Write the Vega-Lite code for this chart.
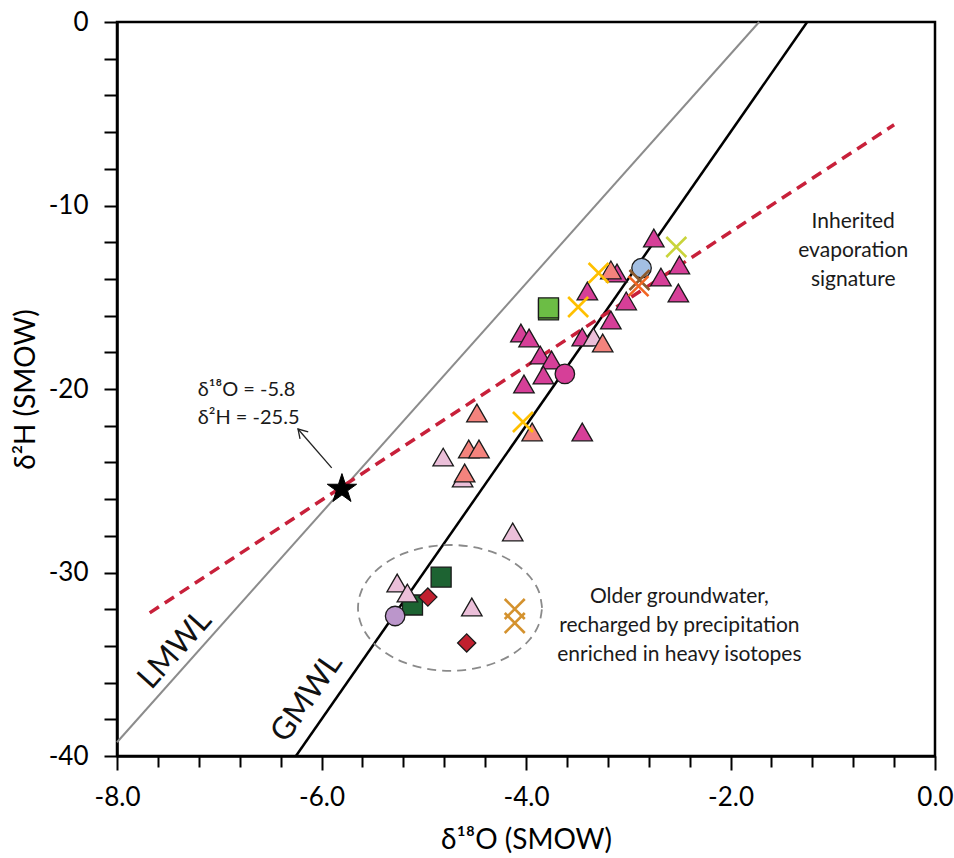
{
  "$schema": "https://vega.github.io/schema/vega-lite/v6.json",
  "width": 818,
  "height": 734,
  "autosize": {"type": "none"},
  "padding": {"left": 117, "top": 22, "right": 19, "bottom": 102},
  "background": "white",
  "config": {
    "font": "Lato",
    "view": {"stroke": "black", "strokeWidth": 2.5},
    "axis": {"grid": false, "domainColor": "black", "domainWidth": 2.5, "tickColor": "black", "tickWidth": 2, "labelColor": "black", "titleColor": "black", "titleFontWeight": "normal", "labelOverlap": false, "labelFlush": false, "labelBound": false}
  },
  "encoding": {
    "x": {
      "field": "x", "type": "quantitative",
      "scale": {"domain": [-8, 0], "nice": false, "zero": false},
      "axis": {
        "values": [-8, -7.6, -7.2, -6.8, -6.4, -6, -5.6, -5.2, -4.8, -4.4, -4, -3.6, -3.2, -2.8, -2.4, -2, -1.6, -1.2, -0.8, -0.4, 0],
        "labelExpr": "abs(datum.value/2 - round(datum.value/2)) < 0.001 ? replace(format(datum.value, '.1f'), '−', '-') : ''",
        "tickSize": {"condition": {"test": "abs(datum.value/2 - round(datum.value/2)) < 0.001", "value": 14}, "value": 11},
        "labelFontSize": 26,
        "labelPadding": 14,
        "title": "δ¹⁸O (SMOW)",
        "titleFontSize": 28,
        "titlePadding": 16
      }
    },
    "y": {
      "field": "y", "type": "quantitative",
      "scale": {"domain": [-40, 0], "nice": false, "zero": false},
      "axis": {
        "values": [0, -2, -4, -6, -8, -10, -12, -14, -16, -18, -20, -22, -24, -26, -28, -30, -32, -34, -36, -38, -40],
        "labelExpr": "datum.value % 10 == 0 ? replace(format(datum.value, 'd'), '−', '-') : ''",
        "tickSize": 13,
        "labelFontSize": 26,
        "labelPadding": 16,
        "title": "δ²H (SMOW)",
        "titleFontSize": 28,
        "titlePadding": 8
      }
    }
  },
  "layer": [
    {
      "data": {"values": [{"x": -8, "y": -39.25}, {"x": -1.72, "y": 0}]},
      "mark": {"type": "line", "color": "#8C8C8C", "strokeWidth": 2},
      "encoding": {}
    },
    {
      "data": {"values": [{"x": -6.25, "y": -40}, {"x": -1.25, "y": 0}]},
      "mark": {"type": "line", "color": "#000000", "strokeWidth": 2.5},
      "encoding": {}
    },
    {
      "data": {"values": [{"x": -7.68, "y": -32.2}, {"x": -0.4, "y": -5.6}]},
      "mark": {"type": "line", "color": "#C8203A", "strokeWidth": 3.5, "strokeDash": [11, 7]},
      "encoding": {}
    },
    {
      "data": {"values": [
        {"i": 0, "x": -3.843, "y": -31.93}, {"i": 1, "x": -3.874, "y": -31.04}, {"i": 2, "x": -3.964, "y": -30.22},
        {"i": 3, "x": -4.107, "y": -29.51}, {"i": 4, "x": -4.293, "y": -28.96}, {"i": 5, "x": -4.51, "y": -28.62},
        {"i": 6, "x": -4.743, "y": -28.5}, {"i": 7, "x": -4.976, "y": -28.62}, {"i": 8, "x": -5.193, "y": -28.96},
        {"i": 9, "x": -5.379, "y": -29.51}, {"i": 10, "x": -5.522, "y": -30.22}, {"i": 11, "x": -5.612, "y": -31.04},
        {"i": 12, "x": -5.643, "y": -31.93}, {"i": 13, "x": -5.612, "y": -32.82}, {"i": 14, "x": -5.522, "y": -33.65},
        {"i": 15, "x": -5.379, "y": -34.36}, {"i": 16, "x": -5.193, "y": -34.9}, {"i": 17, "x": -4.976, "y": -35.24},
        {"i": 18, "x": -4.743, "y": -35.36}, {"i": 19, "x": -4.51, "y": -35.24}, {"i": 20, "x": -4.293, "y": -34.9},
        {"i": 21, "x": -4.107, "y": -34.36}, {"i": 22, "x": -3.964, "y": -33.65}, {"i": 23, "x": -3.874, "y": -32.82},
        {"i": 24, "x": -3.843, "y": -31.93}
      ]},
      "mark": {"type": "line", "color": "#8A8A8A", "strokeWidth": 1.8, "strokeDash": [9, 6], "interpolate": "cardinal"},
      "encoding": {"order": {"field": "i", "type": "quantitative"}}
    },
    {
      "data": {"values": [
        {"g": "H", "x": -4.83, "y": -30.25}, {"g": "H", "x": -5.11, "y": -31.77},
        {"g": "G", "x": -3.78, "y": -15.69}, {"g": "G", "x": -3.78, "y": -15.58}
      ]},
      "mark": {"type": "point", "shape": "square", "size": 400, "filled": true, "opacity": 1, "stroke": "#1a1a1a", "strokeWidth": 1.3},
      "encoding": {
        "fill": {"field": "g", "type": "nominal", "legend": null,
          "scale": {"domain": ["A", "B", "C", "D", "E", "F", "G", "H", "I"], "range": ["#D63F98", "#F4837D", "#EBBFD9", "#D63F98", "#A3BFE3", "#BB96CB", "#6CBD45", "#1D6332", "#C1202F"]}}
      }
    },
    {
      "data": {"values": [
        {"g": "A", "x": -2.75, "y": -11.77}, {"g": "A", "x": -2.5, "y": -13.24}, {"g": "A", "x": -2.68, "y": -13.9},
        {"g": "A", "x": -2.51, "y": -14.77}, {"g": "A", "x": -3.4, "y": -14.66}, {"g": "A", "x": -3.02, "y": -15.2},
        {"g": "A", "x": -3.17, "y": -16.24}, {"g": "A", "x": -3.11, "y": -13.68}, {"g": "A", "x": -4.05, "y": -16.95},
        {"g": "A", "x": -3.97, "y": -17.22}, {"g": "A", "x": -3.45, "y": -17.17}, {"g": "A", "x": -3.86, "y": -18.15},
        {"g": "A", "x": -3.75, "y": -18.42}, {"g": "A", "x": -3.83, "y": -19.24}, {"g": "A", "x": -4.02, "y": -19.73},
        {"g": "A", "x": -3.45, "y": -22.34},
        {"g": "C", "x": -3.34, "y": -17.17}, {"g": "C", "x": -4.81, "y": -23.71}, {"g": "C", "x": -4.62, "y": -24.85},
        {"g": "C", "x": -4.13, "y": -27.79}, {"g": "C", "x": -5.26, "y": -30.57}, {"g": "C", "x": -5.16, "y": -31.12},
        {"g": "C", "x": -4.53, "y": -31.88},
        {"g": "B", "x": -3.25, "y": -17.49}, {"g": "B", "x": -3.17, "y": -13.51}, {"g": "B", "x": -4.48, "y": -21.31},
        {"g": "B", "x": -3.94, "y": -22.34}, {"g": "B", "x": -4.56, "y": -23.27}, {"g": "B", "x": -4.46, "y": -23.27},
        {"g": "B", "x": -4.6, "y": -24.58}
      ]},
      "mark": {"type": "point", "shape": "triangle-up", "size": 420, "filled": true, "opacity": 1, "stroke": "#1a1a1a", "strokeWidth": 1.3},
      "encoding": {
        "fill": {"field": "g", "type": "nominal", "legend": null,
          "scale": {"domain": ["A", "B", "C", "D", "E", "F", "G", "H", "I"], "range": ["#D63F98", "#F4837D", "#EBBFD9", "#D63F98", "#A3BFE3", "#BB96CB", "#6CBD45", "#1D6332", "#C1202F"]}}
      }
    },
    {
      "data": {"values": [{"g": "I", "x": -4.96, "y": -31.34}, {"g": "I", "x": -4.58, "y": -33.84}]},
      "mark": {"type": "point", "shape": "diamond", "size": 330, "filled": true, "opacity": 1, "stroke": "#1a1a1a", "strokeWidth": 1.3},
      "encoding": {
        "fill": {"field": "g", "type": "nominal", "legend": null,
          "scale": {"domain": ["A", "B", "C", "D", "E", "F", "G", "H", "I"], "range": ["#D63F98", "#F4837D", "#EBBFD9", "#D63F98", "#A3BFE3", "#BB96CB", "#6CBD45", "#1D6332", "#C1202F"]}}
      }
    },
    {
      "data": {"values": [{"g": "F", "x": -5.28, "y": -32.37}, {"g": "D", "x": -3.62, "y": -19.18}, {"g": "E", "x": -2.87, "y": -13.41}]},
      "mark": {"type": "point", "shape": "circle", "size": 380, "filled": true, "opacity": 1, "stroke": "#1a1a1a", "strokeWidth": 1.3},
      "encoding": {
        "fill": {"field": "g", "type": "nominal", "legend": null,
          "scale": {"domain": ["A", "B", "C", "D", "E", "F", "G", "H", "I"], "range": ["#D63F98", "#F4837D", "#EBBFD9", "#D63F98", "#A3BFE3", "#BB96CB", "#6CBD45", "#1D6332", "#C1202F"]}}
      }
    },
    {
      "data": {"values": [
        {"g": "J", "x": -3.29, "y": -13.68}, {"g": "J", "x": -3.49, "y": -15.53}, {"g": "J", "x": -4.03, "y": -21.8},
        {"g": "K", "x": -2.53, "y": -12.26}, {"g": "M", "x": -2.89, "y": -14.06}, {"g": "L", "x": -2.9, "y": -14.39},
        {"g": "N", "x": -4.11, "y": -31.99}, {"g": "N", "x": -4.11, "y": -32.75}
      ]},
      "mark": {"type": "point", "shape": "M-1,-1L1,1M-1,1L1,-1", "size": 400, "filled": false, "opacity": 1, "strokeWidth": 2.6},
      "encoding": {
        "stroke": {"field": "g", "type": "nominal", "legend": null,
          "scale": {"domain": ["J", "K", "L", "M", "N"], "range": ["#FFC000", "#C9D43B", "#F26522", "#8C5B2E", "#D4922E"]}}
      }
    },
    {
      "data": {"values": [
        {"s": "a", "i": 0, "x": -5.9, "y": -24.3}, {"s": "a", "i": 1, "x": -6.23, "y": -22.18},
        {"s": "b", "i": 0, "x": -6.21, "y": -22.72}, {"s": "b", "i": 1, "x": -6.23, "y": -22.18}, {"s": "b", "i": 2, "x": -6.13, "y": -22.34}
      ]},
      "mark": {"type": "line", "color": "#222222", "strokeWidth": 1.3},
      "encoding": {"detail": {"field": "s", "type": "nominal"}, "order": {"field": "i", "type": "quantitative"}}
    },
    {
      "data": {"values": [{"x": -5.8, "y": -25.45}]},
      "mark": {"type": "point", "shape": "M0,-1L0.225,-0.309L0.951,-0.309L0.363,0.118L0.588,0.809L0,0.382L-0.588,0.809L-0.363,0.118L-0.951,-0.309L-0.225,-0.309Z", "size": 950, "filled": true, "opacity": 1, "fill": "#000000", "stroke": "#000000", "strokeWidth": 1}
    },
    {
      "data": {"values": [
        {"x": -0.8, "y": -10.9, "t": "Inherited\nevaporation\nsignature"},
        {"x": -2.5, "y": -31.34, "t": "Older groundwater,\nrecharged by precipitation\nenriched in heavy isotopes"}
      ]},
      "mark": {"type": "text", "align": "center", "baseline": "middle", "lineBreak": "\n", "fontSize": 21, "lineHeight": 29, "color": "#1a1a1a"},
      "encoding": {"text": {"field": "t", "type": "nominal"}}
    },
    {
      "data": {"values": [{"x": -7.21, "y": -20.05, "t": "δ¹⁸O = -5.8\nδ²H = -25.5"}]},
      "mark": {"type": "text", "align": "left", "baseline": "middle", "lineBreak": "\n", "fontSize": 20, "lineHeight": 28, "color": "#1a1a1a"},
      "encoding": {"text": {"field": "t", "type": "nominal"}}
    },
    {
      "data": {"values": [{"x": -7.43, "y": -34.22, "t": "LMWL"}]},
      "mark": {"type": "text", "align": "center", "baseline": "middle", "angle": 311.7, "fontSize": 31, "color": "#111111"},
      "encoding": {"text": {"field": "t", "type": "nominal"}}
    },
    {
      "data": {"values": [{"x": -6.14, "y": -36.84, "t": "GMWL"}]},
      "mark": {"type": "text", "align": "center", "baseline": "middle", "angle": 305, "fontSize": 31, "color": "#111111"},
      "encoding": {"text": {"field": "t", "type": "nominal"}}
    }
  ]
}
